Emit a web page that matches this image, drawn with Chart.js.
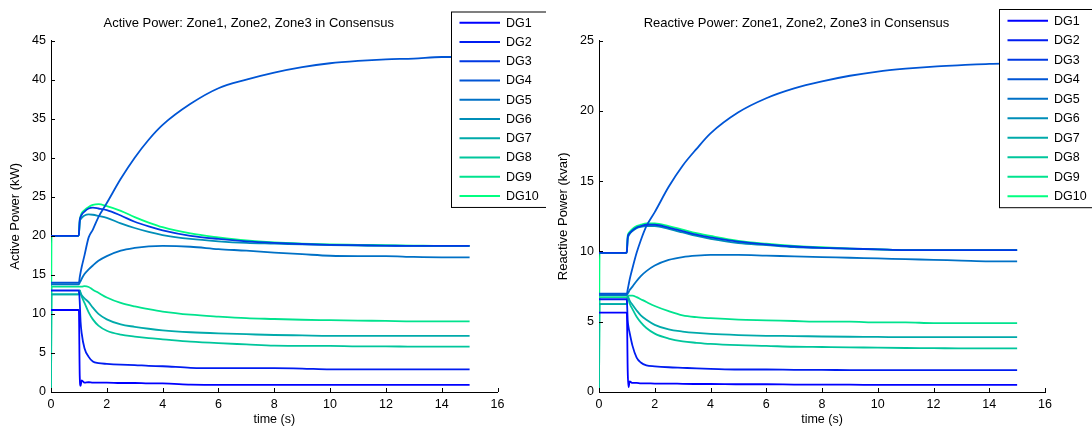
<!DOCTYPE html>
<html>
<head>
<meta charset="utf-8">
<script src="https://cdn.jsdelivr.net/npm/chart.js@4.4.1/dist/chart.umd.min.js"></script>
<style>
    html, body { margin: 0; padding: 0; background: #fff; }
    body { width: 1092px; height: 432px; position: relative; overflow: hidden; }
    canvas { position: absolute; top: 0; }
    #activeChart { left: 0; }
    #reactiveChart { left: 548px; }
</style>
</head>
<body>
<canvas id="activeChart" width="546" height="432"></canvas>
<canvas id="reactiveChart" width="544" height="432"></canvas>
<script>
// sample times (s)
const timeS = [0, 0.02, 0.98, 1.0, 1.03, 1.06, 1.1, 1.2, 1.35, 1.5, 1.7, 2, 2.5, 3, 3.5, 4, 5, 6, 7, 8, 9, 10, 11, 12, 13, 14, 15];

const dgNames = ['DG1', 'DG2', 'DG3', 'DG4', 'DG5', 'DG6', 'DG7', 'DG8', 'DG9', 'DG10'];

// active power, kW
const activeSeries = [
    [10.5, 10.5, 10.5, 10.4, 2.0, 0.8, 1.5, 1.2, 1.25, 1.2, 1.2, 1.2, 1.15, 1.15, 1.1, 1.1, 0.95, 0.9, 0.9, 0.9, 0.9, 0.9, 0.9, 0.9, 0.9, 0.9, 0.9],
    [13.0, 13.0, 13.0, 13.0, 11.5, 9.0, 7.5, 5.6, 4.5, 3.9, 3.7, 3.6, 3.5, 3.45, 3.35, 3.3, 3.1, 3.05, 3.05, 3.05, 3.0, 2.9, 2.9, 2.9, 2.9, 2.9, 2.9],
    [20.0, 20.0, 20.0, 20.2, 22.0, 22.4, 22.7, 23.1, 23.5, 23.6, 23.5, 23.3, 22.6, 21.8, 21.2, 20.7, 20.0, 19.6, 19.3, 19.1, 18.95, 18.85, 18.8, 18.75, 18.7, 18.7, 18.7],
    [14.0, 14.0, 14.0, 14.0, 14.7, 15.3, 16.0, 17.5, 19.8, 20.8, 22.4, 24.2, 27.3, 30.0, 32.3, 34.2, 36.9, 38.9, 40.0, 40.9, 41.6, 42.1, 42.4, 42.6, 42.7, 42.9, 42.9],
    [13.8, 13.8, 13.8, 13.8, 14.0, 14.2, 14.5, 15.1, 15.7, 16.2, 16.8, 17.4, 18.1, 18.45, 18.65, 18.7, 18.6, 18.3, 18.1, 17.85, 17.65, 17.45, 17.4, 17.4, 17.3, 17.25, 17.25],
    [20.0, 20.0, 20.0, 20.2, 21.8, 22.1, 22.3, 22.6, 22.75, 22.7, 22.55, 22.3, 21.6, 21.0, 20.5, 20.1, 19.6, 19.3, 19.1, 19.0, 18.9, 18.8, 18.75, 18.7, 18.7, 18.7, 18.7],
    [12.5, 12.5, 12.5, 12.6, 13.0, 12.7, 12.4, 12.0, 11.5, 10.8, 10.0, 9.3, 8.65, 8.35, 8.1, 7.9, 7.65, 7.5, 7.4, 7.3, 7.25, 7.2, 7.2, 7.2, 7.2, 7.2, 7.2],
    [0, 12.5, 12.5, 12.6, 13.0, 12.6, 12.2, 11.4, 10.2, 9.3, 8.5, 7.85, 7.35, 7.1, 6.9, 6.75, 6.45, 6.25, 6.1, 5.95, 5.9, 5.9, 5.85, 5.85, 5.8, 5.8, 5.8],
    [0, 13.5, 13.5, 13.5, 13.5, 13.5, 13.5, 13.55, 13.45, 13.1, 12.7, 12.1, 11.4, 10.95, 10.6, 10.3, 9.9, 9.65, 9.45, 9.35, 9.25, 9.2, 9.15, 9.1, 9.05, 9.05, 9.05],
    [0, 20.0, 20.0, 20.2, 22.0, 22.5, 22.9, 23.3, 23.7, 23.95, 24.05, 23.8, 23.2, 22.4, 21.7, 21.1, 20.3, 19.8, 19.4, 19.15, 19.0, 18.9, 18.85, 18.8, 18.75, 18.7, 18.7]
];

// reactive power, kvar
const reactiveSeries = [
    [5.65, 5.65, 5.65, 5.6, 1.5, 0.35, 0.75, 0.65, 0.65, 0.62, 0.62, 0.6, 0.6, 0.58, 0.57, 0.57, 0.55, 0.55, 0.53, 0.52, 0.52, 0.5, 0.5, 0.5, 0.5, 0.5, 0.5],
    [6.6, 6.6, 6.6, 6.5, 5.1, 4.6, 4.2, 3.3, 2.45, 2.1, 1.9, 1.83, 1.76, 1.72, 1.68, 1.65, 1.6, 1.6, 1.58, 1.57, 1.56, 1.55, 1.55, 1.55, 1.55, 1.55, 1.55],
    [9.9, 9.9, 9.9, 10.0, 11.0, 11.2, 11.3, 11.5, 11.7, 11.8, 11.9, 11.9, 11.7, 11.45, 11.2, 11.0, 10.7, 10.5, 10.35, 10.25, 10.2, 10.15, 10.1, 10.1, 10.1, 10.1, 10.1],
    [7.0, 7.0, 7.0, 7.0, 7.3, 7.6, 8.0, 8.8, 9.9, 10.8, 11.8, 12.8, 14.6, 16.1, 17.3, 18.4, 19.9, 20.9, 21.6, 22.1, 22.5, 22.8, 23.0, 23.15, 23.25, 23.35, 23.4],
    [6.9, 6.9, 6.9, 6.9, 7.0, 7.1, 7.25, 7.5, 7.9, 8.25, 8.6, 9.0, 9.4, 9.6, 9.7, 9.75, 9.75, 9.7, 9.65, 9.6, 9.55, 9.5, 9.45, 9.4, 9.35, 9.3, 9.3],
    [9.9, 9.9, 9.9, 10.0, 10.9, 11.1, 11.25, 11.45, 11.65, 11.75, 11.8, 11.8, 11.6, 11.35, 11.1, 10.9, 10.6, 10.45, 10.3, 10.25, 10.2, 10.15, 10.1, 10.1, 10.1, 10.1, 10.1],
    [6.25, 6.25, 6.25, 6.3, 6.8, 6.7, 6.5, 6.2, 5.8, 5.45, 5.14, 4.78, 4.45, 4.3, 4.2, 4.13, 4.05, 4.0, 3.98, 3.95, 3.93, 3.92, 3.9, 3.9, 3.9, 3.9, 3.9],
    [0, 6.25, 6.25, 6.3, 6.8, 6.6, 6.3, 5.9, 5.35, 4.95, 4.55, 4.15, 3.8, 3.6, 3.5, 3.42, 3.33, 3.28, 3.22, 3.2, 3.18, 3.15, 3.13, 3.12, 3.1, 3.1, 3.1],
    [0, 6.75, 6.75, 6.75, 6.8, 6.85, 6.85, 6.85, 6.75, 6.6, 6.4, 6.12, 5.75, 5.45, 5.32, 5.25, 5.15, 5.1, 5.05, 5.0, 5.0, 4.95, 4.95, 4.9, 4.9, 4.9, 4.9],
    [0, 9.9, 9.9, 10.05, 11.1, 11.3, 11.4, 11.6, 11.8, 11.9, 12.0, 12.0, 11.8, 11.55, 11.3, 11.1, 10.75, 10.55, 10.4, 10.3, 10.2, 10.15, 10.1, 10.1, 10.1, 10.1, 10.1]
];

// matlab "winter" style line colours
const dgColors = ['#0000ff', '#001cf1', '#0039e3', '#0055d5', '#0071c6', '#008eb8', '#00aaaa', '#00c69c', '#00e38e', '#00ff80'];

const FONT = 'Liberation Sans, Arial, Helvetica, sans-serif';

// legend drawn inside the axes, like matlab does
const boxLegend = {
    id: 'boxLegend',
    afterDraw(chart, args, opts) {
        const ctx = chart.ctx;
        const n = chart.data.datasets.length;
        const bottom = opts.firstRow + opts.rowH * (n - 1) + 11;
        ctx.save();
        ctx.fillStyle = '#fff';
        ctx.fillRect(opts.x, opts.top, opts.w, bottom - opts.top);
        ctx.strokeStyle = '#000';
        ctx.lineWidth = 1;
        ctx.strokeRect(opts.x + 0.5, opts.top + 0.5, opts.w, bottom - opts.top);
        ctx.font = '12.5px ' + FONT;
        ctx.textBaseline = 'middle';
        ctx.textAlign = 'left';
        chart.data.datasets.forEach((ds, i) => {
            const y = opts.firstRow + opts.rowH * i;
            ctx.strokeStyle = ds.borderColor;
            ctx.lineWidth = 2;
            ctx.beginPath();
            ctx.moveTo(opts.x + 8.5, y);
            ctx.lineTo(opts.x + 49, y);
            ctx.stroke();
            ctx.fillStyle = '#000';
            ctx.fillText(ds.label, opts.x + 55, y + 0.5);
        });
        ctx.restore();
    }
};

// small inward tick marks
const innerTicks = {
    id: 'innerTicks',
    afterDatasetsDraw(chart) {
        const ctx = chart.ctx;
        const {left, bottom} = chart.chartArea;
        const xs = chart.scales.x, ys = chart.scales.y;
        ctx.save();
        ctx.strokeStyle = '#000';
        ctx.lineWidth = 1;
        ctx.beginPath();
        xs.ticks.forEach(t => {
            const px = Math.round(xs.getPixelForValue(t.value)) + 0.5;
            ctx.moveTo(px, bottom);
            ctx.lineTo(px, bottom - 4);
        });
        ys.ticks.forEach(t => {
            const py = Math.round(ys.getPixelForValue(t.value)) + 0.5;
            ctx.moveTo(left, py);
            ctx.lineTo(left + 4, py);
        });
        ctx.stroke();
        ctx.restore();
    }
};

function makeChart(id, title, yTitle, yMax, series, padRight, legendTop, firstRow, rowH) {
    const datasets = series.map((vals, i) => ({
        label: dgNames[i],
        data: timeS.map((t, j) => ({x: t, y: vals[j]})),
        borderColor: dgColors[i],
        backgroundColor: dgColors[i],
        borderWidth: 1.8,
        pointRadius: 0,
        cubicInterpolationMode: 'monotone',
        fill: false
    }));
    return new Chart(document.getElementById(id), {
        type: 'line',
        data: {datasets: datasets},
        plugins: [innerTicks, boxLegend],
        options: {
            responsive: false,
            animation: false,
            layout: {padding: {left: 0, right: padRight, top: 0, bottom: 0}},
            plugins: {
                legend: {display: false},
                tooltip: {enabled: false},
                title: {
                    display: true,
                    text: title,
                    color: '#000',
                    font: {family: FONT, size: 13, weight: 'normal'},
                    padding: {top: 16, bottom: 9}
                },
                boxLegend: {x: 451, top: legendTop, w: 95, firstRow: firstRow, rowH: rowH}
            },
            scales: {
                x: {
                    type: 'linear',
                    min: 0,
                    max: 16,
                    ticks: {stepSize: 2, color: '#000', padding: 5, font: {family: FONT, size: 12.5}},
                    grid: {display: false, drawTicks: false},
                    border: {display: true, color: '#000', width: 1},
                    title: {display: true, text: 'time (s)', color: '#000', font: {family: FONT, size: 12.5}, padding: {top: 0, bottom: 4.5}},
                    afterFit: (s) => { s.height = 40; }
                },
                y: {
                    min: 0,
                    max: yMax,
                    ticks: {stepSize: 5, color: '#000', padding: 5, font: {family: FONT, size: 12.5}},
                    grid: {display: false, drawTicks: false},
                    border: {display: true, color: '#000', width: 1},
                    title: {display: true, text: yTitle, color: '#000', font: {family: FONT, size: 13}, padding: {top: 8, bottom: 0}},
                    afterFit: (s) => { s.width = 51; }
                }
            }
        }
    });
}

makeChart('activeChart', 'Active Power: Zone1, Zone2, Zone3 in Consensus', 'Active Power (kW)', 45, activeSeries, 48.5, 11.5, 22.7, 19.25);
makeChart('reactiveChart', 'Reactive Power: Zone1, Zone2, Zone3 in Consensus', 'Reactive Power (kvar)', 25, reactiveSeries, 47, 9, 20.7, 19.5);
</script>
</body>
</html>
